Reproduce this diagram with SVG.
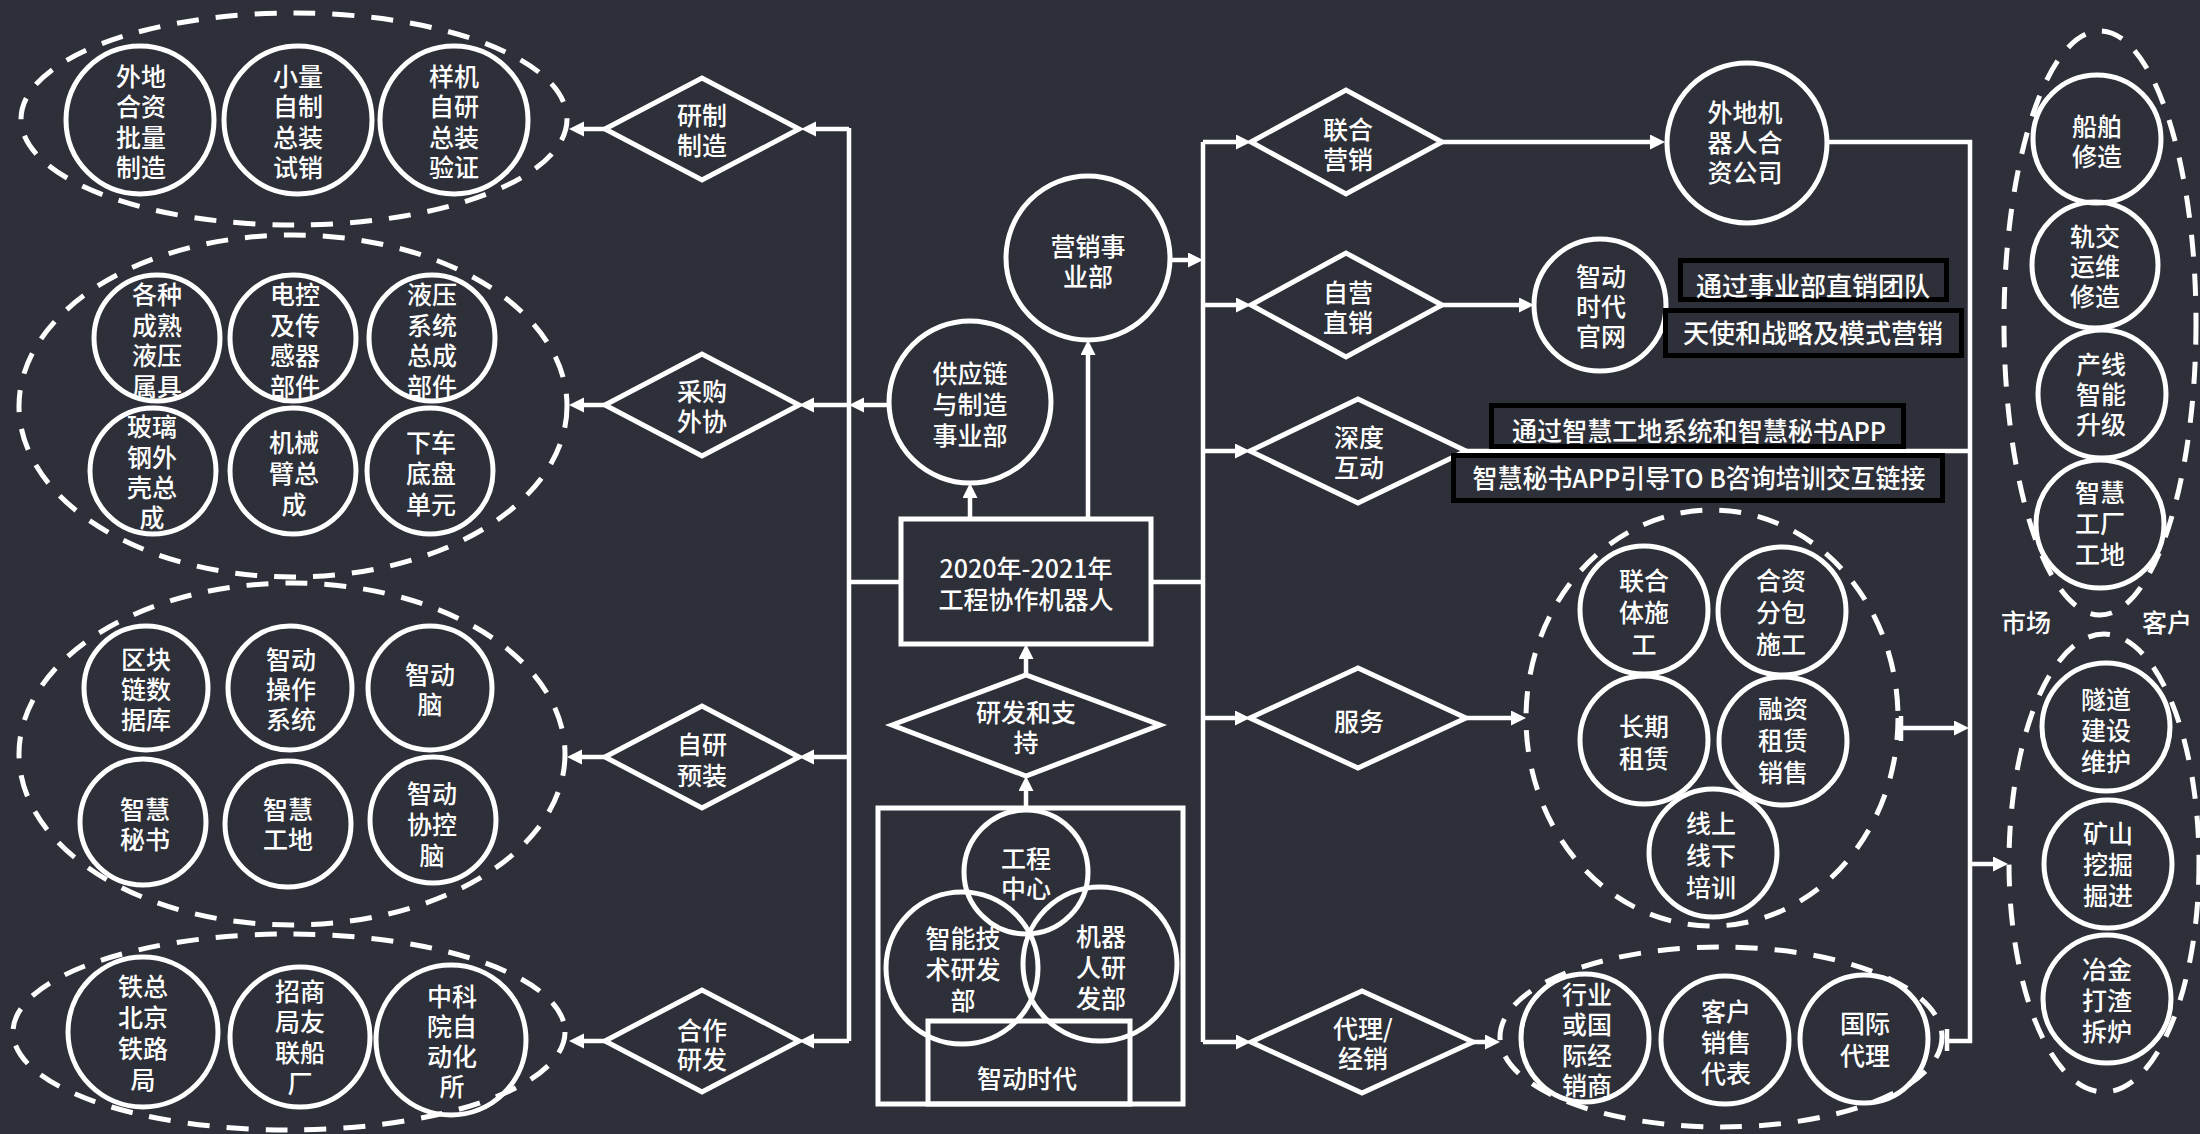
<svg xmlns="http://www.w3.org/2000/svg" width="2200" height="1134" viewBox="0 0 2200 1134">
<defs>
<style>
.c{fill:none;stroke:#fff;stroke-width:5}
.d{fill:none;stroke:#fff;stroke-width:5;stroke-dasharray:22 17}
.l{fill:none;stroke:#fff;stroke-width:4.5}
.a{fill:none;stroke:#fff;stroke-width:4.5;marker-end:url(#ah)}
.t{fill:#fff;font-family:"Noto Sans CJK SC","Noto Sans",sans-serif;font-size:25px;font-weight:500;text-anchor:middle}
.bt{fill:#fff;font-family:"Noto Sans CJK SC","Noto Sans",sans-serif;font-size:26px;font-weight:500;text-anchor:middle}
.b{fill:#2e3039;stroke:#000;stroke-width:5}
</style>
<marker id="ah" markerUnits="userSpaceOnUse" markerWidth="16" markerHeight="16" refX="7" refY="7.5" orient="auto">
<path d="M0,0 L15,7.5 L0,15 z" fill="#fff"/>
</marker>
</defs>
<rect width="2200" height="1134" fill="#2e3039"/>

<g id="connectors">
<path class="l" d="M849,128 V1041"/>
<path class="a" d="M849,129 H809"/>
<path class="a" d="M849,405 H807"/>
<path class="a" d="M849,757 H807"/>
<path class="a" d="M849,1041 H807"/>
<path class="a" d="M605,129 H577"/>
<path class="a" d="M605,405 H577"/>
<path class="a" d="M605,757 H575"/>
<path class="a" d="M605,1041 H577"/>
<path class="a" d="M888,405 H857"/>
<path class="l" d="M901,582 H849"/>
<path class="a" d="M970,519 V491"/>
<path class="a" d="M1088,519 V348"/>
<path class="a" d="M1026,675 V652"/>
<path class="a" d="M1026,808 V784"/>
<path class="l" d="M1151,582 H1203"/>
<path class="l" d="M1203,142 V1042"/>
<path class="a" d="M1170,260 H1195"/>
<path class="a" d="M1203,142 H1243"/>
<path class="a" d="M1203,305 H1243"/>
<path class="a" d="M1203,451 H1242"/>
<path class="a" d="M1203,718 H1242"/>
<path class="a" d="M1203,1042 H1243"/>
<path class="a" d="M1442,142 H1657"/>
<path class="l" d="M1828,142 H1970 V1041 H1947"/>
<path class="l" d="M1947,1029 V1051"/>
<path class="a" d="M1442,305 H1526"/>
<path class="l" d="M1466,451 H1970"/>
<path class="a" d="M1466,718 H1518"/>
<path class="a" d="M1901,728 H1961"/>
<path class="l" d="M1901,716 V741"/>
<path class="a" d="M1970,864 H2000"/>
<path class="a" d="M1473,1042 H1492"/>
</g>

<g id="grp-yanzhi">
<ellipse class="d" cx="294" cy="119" rx="273" ry="106"/>
<g id="n-waidi"><circle class="c" cx="140" cy="120" r="74"/><text class="t"><tspan x="141" y="86">外地</tspan><tspan x="141" y="116">合资</tspan><tspan x="141" y="147">批量</tspan><tspan x="141" y="177">制造</tspan></text></g>
<g id="n-xiaoliang"><circle class="c" cx="298" cy="120" r="74"/><text class="t"><tspan x="298" y="86">小量</tspan><tspan x="298" y="116">自制</tspan><tspan x="298" y="147">总装</tspan><tspan x="298" y="177">试销</tspan></text></g>
<g id="n-yangji"><circle class="c" cx="454" cy="120" r="74"/><text class="t"><tspan x="454" y="86">样机</tspan><tspan x="454" y="116">自研</tspan><tspan x="454" y="147">总装</tspan><tspan x="454" y="177">验证</tspan></text></g>
</g>

<g id="grp-caigou">
<ellipse class="d" cx="293" cy="406" rx="274" ry="171"/>
<g id="n-gezhong"><circle class="c" cx="157" cy="338" r="63"/><text class="t"><tspan x="157" y="304">各种</tspan><tspan x="157" y="335">成熟</tspan><tspan x="157" y="365">液压</tspan><tspan x="157" y="396">属具</tspan></text></g>
<g id="n-diankong"><circle class="c" cx="293" cy="338" r="63"/><text class="t"><tspan x="295" y="304">电控</tspan><tspan x="295" y="335">及传</tspan><tspan x="295" y="365">感器</tspan><tspan x="295" y="396">部件</tspan></text></g>
<g id="n-yeya"><circle class="c" cx="432" cy="338" r="63"/><text class="t"><tspan x="432" y="304">液压</tspan><tspan x="432" y="335">系统</tspan><tspan x="432" y="365">总成</tspan><tspan x="432" y="396">部件</tspan></text></g>
<g id="n-boli"><circle class="c" cx="153" cy="471" r="63"/><text class="t"><tspan x="152" y="436">玻璃</tspan><tspan x="152" y="467">钢外</tspan><tspan x="152" y="497">壳总</tspan><tspan x="152" y="527">成</tspan></text></g>
<g id="n-jixie"><circle class="c" cx="293" cy="471" r="63"/><text class="t"><tspan x="294" y="452">机械</tspan><tspan x="294" y="483">臂总</tspan><tspan x="294" y="514">成</tspan></text></g>
<g id="n-xiache"><circle class="c" cx="430" cy="471" r="63"/><text class="t"><tspan x="431" y="452">下车</tspan><tspan x="431" y="483">底盘</tspan><tspan x="431" y="514">单元</tspan></text></g>
</g>

<g id="grp-ziyan">
<ellipse class="d" cx="292" cy="754" rx="273" ry="171"/>
<g id="n-qukuai"><circle class="c" cx="146" cy="688" r="62"/><text class="t"><tspan x="146" y="669">区块</tspan><tspan x="146" y="699">链数</tspan><tspan x="146" y="729">据库</tspan></text></g>
<g id="n-caozuo"><circle class="c" cx="290" cy="688" r="62"/><text class="t"><tspan x="291" y="669">智动</tspan><tspan x="291" y="699">操作</tspan><tspan x="291" y="729">系统</tspan></text></g>
<g id="n-nao"><circle class="c" cx="430" cy="688" r="62"/><text class="t"><tspan x="430" y="684">智动</tspan><tspan x="430" y="714">脑</tspan></text></g>
<g id="n-mishu"><circle class="c" cx="143" cy="822" r="63"/><text class="t"><tspan x="145" y="819">智慧</tspan><tspan x="145" y="849">秘书</tspan></text></g>
<g id="n-gongdi"><circle class="c" cx="288" cy="824" r="63"/><text class="t"><tspan x="288" y="819">智慧</tspan><tspan x="288" y="849">工地</tspan></text></g>
<g id="n-xiekong"><circle class="c" cx="433" cy="820" r="63"/><text class="t"><tspan x="432" y="803">智动</tspan><tspan x="432" y="834">协控</tspan><tspan x="432" y="865">脑</tspan></text></g>
</g>

<g id="grp-hezuo">
<ellipse class="d" cx="289" cy="1032" rx="276" ry="98"/>
<g id="n-tiezong"><circle class="c" cx="143" cy="1032" r="75"/><text class="t"><tspan x="143" y="996">铁总</tspan><tspan x="143" y="1027">北京</tspan><tspan x="143" y="1058">铁路</tspan><tspan x="143" y="1089">局</tspan></text></g>
<g id="n-zhaoshang"><circle class="c" cx="300" cy="1037" r="70"/><text class="t"><tspan x="300" y="1001">招商</tspan><tspan x="300" y="1031">局友</tspan><tspan x="300" y="1062">联船</tspan><tspan x="300" y="1093">厂</tspan></text></g>
<g id="n-zhongke"><circle class="c" cx="451" cy="1040" r="75"/><text class="t"><tspan x="452" y="1006">中科</tspan><tspan x="452" y="1036">院自</tspan><tspan x="452" y="1066">动化</tspan><tspan x="452" y="1096">所</tspan></text></g>
</g>

<g id="d-yanzhi"><path class="c" d="M605,129 L702,78 L799,129 L702,180 Z"/><text class="t"><tspan x="702" y="125">研制</tspan><tspan x="702" y="155">制造</tspan></text></g>
<g id="d-caigou"><path class="c" d="M605,405 L702,354 L799,405 L702,456 Z"/><text class="t"><tspan x="702" y="401">采购</tspan><tspan x="702" y="431">外协</tspan></text></g>
<g id="d-ziyan"><path class="c" d="M605,757 L702,706 L799,757 L702,808 Z"/><text class="t"><tspan x="702" y="754">自研</tspan><tspan x="702" y="785">预装</tspan></text></g>
<g id="d-hezuo"><path class="c" d="M605,1041 L702,990 L799,1041 L702,1092 Z"/><text class="t"><tspan x="702" y="1040">合作</tspan><tspan x="702" y="1069">研发</tspan></text></g>

<g id="n-main"><rect class="c" x="901" y="519" width="250" height="125"/><text class="t"><tspan x="1026" y="578">2020年-2021年</tspan><tspan x="1026" y="609">工程协作机器人</tspan></text></g>
<g id="n-gongying"><circle class="c" cx="970" cy="402" r="81"/><text class="t"><tspan x="970" y="383">供应链</tspan><tspan x="970" y="414">与制造</tspan><tspan x="970" y="445">事业部</tspan></text></g>
<g id="n-yingxiao"><circle class="c" cx="1088" cy="258" r="82"/><text class="t"><tspan x="1088" y="256">营销事</tspan><tspan x="1088" y="286">业部</tspan></text></g>
<g id="d-yanfa"><path class="c" d="M892,725 L1026,675 L1160,725 L1026,776 Z"/><text class="t"><tspan x="1026" y="722">研发和支</tspan><tspan x="1026" y="752">持</tspan></text></g>

<g id="n-zhidong">
<rect class="c" x="878" y="808" width="305" height="296"/>
<circle class="c" cx="1026" cy="872" r="62"/>
<circle class="c" cx="962" cy="968" r="76"/>
<circle class="c" cx="1100" cy="964" r="77"/>
<rect class="c" x="928" y="1021" width="202" height="83"/>
<text class="t"><tspan x="1026" y="868">工程</tspan><tspan x="1026" y="898">中心</tspan></text>
<text class="t"><tspan x="963" y="948">智能技</tspan><tspan x="963" y="979">术研发</tspan><tspan x="963" y="1010">部</tspan></text>
<text class="t"><tspan x="1101" y="946">机器</tspan><tspan x="1101" y="977">人研</tspan><tspan x="1101" y="1008">发部</tspan></text>
<text class="t" x="1027" y="1088">智动时代</text>
</g>

<g id="d-lianhe"><path class="c" d="M1251,142 L1346,90 L1442,142 L1346,194 Z"/><text class="t"><tspan x="1348" y="139">联合</tspan><tspan x="1348" y="169">营销</tspan></text></g>
<g id="d-ziying"><path class="c" d="M1251,305 L1346,253 L1442,305 L1346,357 Z"/><text class="t"><tspan x="1348" y="302">自营</tspan><tspan x="1348" y="332">直销</tspan></text></g>
<g id="d-shendu"><path class="c" d="M1250,451 L1358,399 L1466,451 L1358,503 Z"/><text class="t"><tspan x="1359" y="447">深度</tspan><tspan x="1359" y="477">互动</tspan></text></g>
<g id="d-fuwu"><path class="c" d="M1250,718 L1358,668 L1466,718 L1358,768 Z"/><text class="t" x="1359" y="731">服务</text></g>
<g id="d-daili"><path class="c" d="M1251,1042 L1362,991 L1473,1042 L1362,1093 Z"/><text class="t"><tspan x="1363" y="1038">代理/</tspan><tspan x="1363" y="1068">经销</tspan></text></g>

<g id="n-waidijqr"><circle class="c" cx="1747" cy="143" r="80"/><text class="t"><tspan x="1745" y="122">外地机</tspan><tspan x="1745" y="152">器人合</tspan><tspan x="1745" y="182">资公司</tspan></text></g>
<g id="n-guanwang"><circle class="c" cx="1600" cy="305" r="66"/><text class="t"><tspan x="1601" y="286">智动</tspan><tspan x="1601" y="316">时代</tspan><tspan x="1601" y="346">官网</tspan></text></g>

<g id="box1"><rect class="b" x="1680.5" y="260.5" width="266" height="39"/><text class="bt" x="1813" y="295.5">通过事业部直销团队</text></g>
<g id="box2"><rect class="b" x="1665.5" y="310.5" width="296" height="45"/><text class="bt" x="1813" y="342.5">天使和战略及模式营销</text></g>
<g id="box3"><rect class="b" x="1491.5" y="405.5" width="412" height="41"/><text class="bt" x="1699" y="440.5" textLength="374" lengthAdjust="spacingAndGlyphs">通过智慧工地系统和智慧秘书APP</text></g>
<g id="box4"><rect class="b" x="1453.5" y="455.5" width="489" height="45"/><text class="bt" x="1699" y="487.5" textLength="453" lengthAdjust="spacingAndGlyphs">智慧秘书APP引导TO B咨询培训交互链接</text></g>

<g id="grp-fuwu">
<ellipse class="d" cx="1712" cy="718" rx="186" ry="208"/>
<g id="n-lianheti"><circle class="c" cx="1644" cy="610" r="64"/><text class="t"><tspan x="1644" y="590">联合</tspan><tspan x="1644" y="622">体施</tspan><tspan x="1644" y="654">工</tspan></text></g>
<g id="n-hezifb"><circle class="c" cx="1782" cy="611" r="64"/><text class="t"><tspan x="1781" y="590">合资</tspan><tspan x="1781" y="622">分包</tspan><tspan x="1781" y="654">施工</tspan></text></g>
<g id="n-changqi"><circle class="c" cx="1644" cy="740" r="64"/><text class="t"><tspan x="1644" y="736">长期</tspan><tspan x="1644" y="768">租赁</tspan></text></g>
<g id="n-rongzi"><circle class="c" cx="1783" cy="741" r="64"/><text class="t"><tspan x="1783" y="718">融资</tspan><tspan x="1783" y="750">租赁</tspan><tspan x="1783" y="782">销售</tspan></text></g>
<g id="n-xianshang"><circle class="c" cx="1713" cy="853" r="64"/><text class="t"><tspan x="1711" y="833">线上</tspan><tspan x="1711" y="865">线下</tspan><tspan x="1711" y="897">培训</tspan></text></g>
</g>

<g id="grp-daili">
<ellipse class="d" cx="1721" cy="1037" rx="221" ry="90"/>
<g id="n-hangye"><circle class="c" cx="1585" cy="1038" r="64"/><text class="t"><tspan x="1587" y="1004">行业</tspan><tspan x="1587" y="1034">或国</tspan><tspan x="1587" y="1065">际经</tspan><tspan x="1587" y="1095">销商</tspan></text></g>
<g id="n-kehu"><circle class="c" cx="1725" cy="1040" r="64"/><text class="t"><tspan x="1726" y="1021">客户</tspan><tspan x="1726" y="1052">销售</tspan><tspan x="1726" y="1083">代表</tspan></text></g>
<g id="n-guoji"><circle class="c" cx="1864" cy="1039" r="64"/><text class="t"><tspan x="1865" y="1033">国际</tspan><tspan x="1865" y="1065">代理</tspan></text></g>
</g>

<g id="grp-market1">
<ellipse class="d" cx="2100" cy="323" rx="96" ry="292"/>
<g id="n-chuanbo"><circle class="c" cx="2097" cy="139" r="64"/><text class="t"><tspan x="2097" y="136">船舶</tspan><tspan x="2097" y="166">修造</tspan></text></g>
<g id="n-guijiao"><circle class="c" cx="2095" cy="265" r="63"/><text class="t"><tspan x="2095" y="246">轨交</tspan><tspan x="2095" y="276">运维</tspan><tspan x="2095" y="306">修造</tspan></text></g>
<g id="n-chanxian"><circle class="c" cx="2102" cy="394" r="64"/><text class="t"><tspan x="2101" y="374">产线</tspan><tspan x="2101" y="404">智能</tspan><tspan x="2101" y="434">升级</tspan></text></g>
<g id="n-gongchang"><circle class="c" cx="2100" cy="524" r="64"/><text class="t"><tspan x="2100" y="502">智慧</tspan><tspan x="2100" y="533">工厂</tspan><tspan x="2100" y="564">工地</tspan></text></g>
</g>
<text class="t" x="2026" y="632">市场</text>
<text class="t" x="2167" y="632">客户</text>

<g id="grp-market2">
<ellipse class="d" cx="2104" cy="863" rx="95" ry="229"/>
<g id="n-suidao"><circle class="c" cx="2106" cy="727" r="64"/><text class="t"><tspan x="2106" y="709">隧道</tspan><tspan x="2106" y="740">建设</tspan><tspan x="2106" y="771">维护</tspan></text></g>
<g id="n-kuangshan"><circle class="c" cx="2108" cy="864" r="64"/><text class="t"><tspan x="2108" y="843">矿山</tspan><tspan x="2108" y="874">挖掘</tspan><tspan x="2108" y="905">掘进</tspan></text></g>
<g id="n-yejin"><circle class="c" cx="2107" cy="999" r="64"/><text class="t"><tspan x="2107" y="979">冶金</tspan><tspan x="2107" y="1010">打渣</tspan><tspan x="2107" y="1041">拆炉</tspan></text></g>
</g>
</svg>
